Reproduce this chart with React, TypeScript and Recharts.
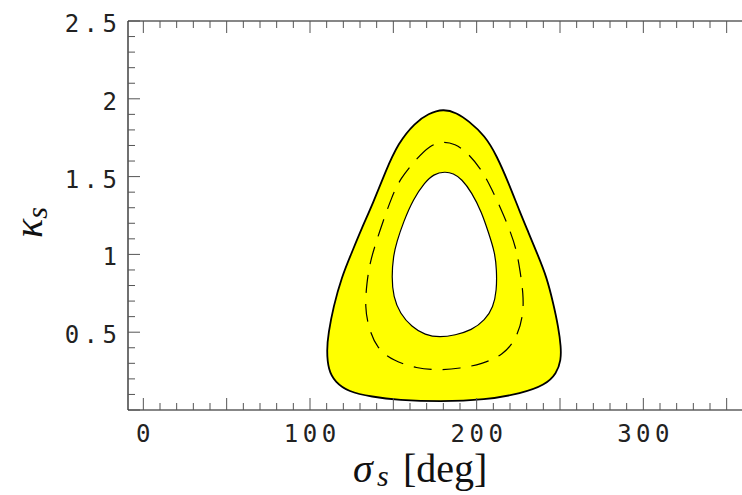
import React from "react";
import { ComposedChart, Scatter, XAxis, YAxis, Label } from "recharts";

// contour lines in the (sigma_s, kappa_s) plane, as [sigma, kappa] pairs
const outerContour: [number, number][] = [
  [180, 1.936], [171, 1.905], [163, 1.846], [153, 1.718], [145, 1.526],
  [138, 1.333], [131, 1.167], [125, 1.01], [119, 0.855], [114, 0.662],
  [111, 0.492], [110, 0.385], [111, 0.256], [115, 0.181], [123, 0.117],
  [137, 0.085], [153, 0.064], [178, 0.053], [205, 0.064], [227, 0.107],
  [241, 0.16], [248, 0.235], [250.6, 0.321], [250.6, 0.406], [249, 0.534],
  [246, 0.684], [242, 0.855], [236.5, 1.0], [231, 1.143], [226, 1.271],
  [219, 1.463], [212, 1.635], [205, 1.763], [195, 1.859], [188, 1.91],
];

const innerContour: [number, number][] = [
  [181, 1.533], [174, 1.515], [169, 1.464], [162, 1.357], [156, 1.207],
  [152, 1.079], [150, 0.99], [149, 0.855], [150, 0.726], [154, 0.62],
  [161, 0.534], [169, 0.481], [178, 0.466], [187, 0.481], [197, 0.513],
  [205, 0.577], [210, 0.662], [212, 0.769], [212, 0.897], [211, 1.01],
  [207, 1.143], [203, 1.271], [197, 1.399], [191, 1.485], [186, 1.52],
];

const dashedContour: [number, number][] = [
  [180, 1.727], [172, 1.703], [163, 1.603], [154, 1.485], [149, 1.367],
  [144, 1.218], [140, 1.09], [136, 0.951], [134, 0.812], [133, 0.662],
  [135, 0.534], [140, 0.396], [150, 0.316], [164, 0.267], [177, 0.256],
  [190, 0.267], [203, 0.295], [216, 0.353], [224, 0.46], [228, 0.609],
  [228, 0.748], [226, 0.897], [224, 1.026], [220, 1.154], [215, 1.282],
  [209, 1.421], [203, 1.545], [194, 1.66], [187, 1.71],
];

const SIGMA_TICKS = Array.from({ length: 37 }, (_, i) => i * 10);
const SIGMA_LABELS = [0, 100, 200, 300];
const KAPPA_TICKS = Array.from({ length: 26 }, (_, i) => i / 10);
const KAPPA_LABELS = ["0.5", "1", "1.5", "2", "2.5"];

const YELLOW = "#ffff00";
const TICK_COLOR = "#555";
const MONO = '"DejaVu Sans Mono", monospace';
const SERIF = '"Liberation Serif", "DejaVu Serif", serif';
const SPACING = 4.5;

const toPoints = (c: [number, number][]) =>
  c.map(([sigma, kappa]) => ({ sigma, kappa }));

const NoDot = () => <g />;

function BottomTick({ x, y, payload }: any) {
  const v = payload.value;
  const long = v % 50 === 0;
  return (
    <g>
      <line x1={x} y1={y} x2={x} y2={y - (long ? 12 : 7)} stroke={TICK_COLOR} />
      {SIGMA_LABELS.includes(v) && (
        <text
          x={x + SPACING / 2}
          y={y + 32}
          textAnchor="middle"
          fontFamily={MONO}
          fontSize={24}
          letterSpacing={SPACING}
          fill="#222"
        >
          {v}
        </text>
      )}
    </g>
  );
}

function TopTick({ x, y, payload }: any) {
  const long = payload.value % 50 === 0;
  return <line x1={x} y1={y} x2={x} y2={y + (long ? 12 : 7)} stroke={TICK_COLOR} />;
}

function LeftTick({ x, y, index }: any) {
  const long = index % 5 === 0;
  const label = long && index > 0 ? KAPPA_LABELS[index / 5 - 1] : null;
  return (
    <g>
      <line x1={x} y1={y} x2={x + (long ? 12 : 7)} y2={y} stroke={TICK_COLOR} />
      {label && (
        <text
          x={x - 11 + SPACING}
          y={y + 11}
          textAnchor="end"
          fontFamily={MONO}
          fontSize={24}
          letterSpacing={SPACING}
          fill="#222"
        >
          {label}
        </text>
      )}
    </g>
  );
}

const SigmaTitle = () => (
  <text y={482} fontFamily={SERIF} fontSize={40} fill="#111">
    <tspan x={353} fontStyle="italic">σ</tspan>
    <tspan x={377} dy={4} fontSize={30} fontStyle="italic">s</tspan>
    <tspan x={403} dy={-4}>[deg]</tspan>
  </text>
);

const KappaTitle = () => (
  <text
    x={42}
    y={238}
    transform="rotate(-90 42 238)"
    fontFamily={SERIF}
    fontSize={40}
    fill="#111"
  >
    <tspan fontStyle="italic">κ</tspan>
    <tspan dy={5} fontSize={30} fontStyle="italic">s</tspan>
  </text>
);

export default function App() {
  return (
    <div
      style={{
        position: "absolute",
        left: 0,
        top: 0,
        width: 742,
        height: 495,
        overflow: "hidden",
        background: "#fff",
      }}
    >
      <ComposedChart
        width={760}
        height={495}
        margin={{ top: 0, right: 15, bottom: 0, left: 0 }}
      >
        <XAxis
          xAxisId="x"
          dataKey="sigma"
          type="number"
          orientation="bottom"
          domain={[-9.2, 361]}
          allowDataOverflow
          ticks={SIGMA_TICKS}
          interval={0}
          tickSize={0}
          tickMargin={0}
          tickLine={false}
          tick={<BottomTick />}
          axisLine={{ stroke: "#111", strokeWidth: 1.2 }}
          height={85}
        >
          <Label content={<SigmaTitle />} />
        </XAxis>
        <XAxis
          xAxisId="top"
          dataKey="sigma"
          type="number"
          orientation="top"
          domain={[-9.2, 361]}
          allowDataOverflow
          ticks={SIGMA_TICKS}
          interval={0}
          tickSize={0}
          tickMargin={0}
          tickLine={false}
          tick={<TopTick />}
          axisLine={{ stroke: "#111", strokeWidth: 1.2 }}
          height={21}
        />
        <YAxis
          yAxisId="k"
          dataKey="kappa"
          type="number"
          domain={[0, 2.5]}
          allowDataOverflow
          ticks={KAPPA_TICKS}
          interval={0}
          tickSize={0}
          tickMargin={0}
          tickLine={false}
          tick={<LeftTick />}
          axisLine={{ stroke: "#111", strokeWidth: 1.2 }}
          width={128}
        >
          <Label content={<KappaTitle />} />
        </YAxis>

        <Scatter
          xAxisId="x"
          yAxisId="k"
          data={toPoints(outerContour)}
          fill={YELLOW}
          shape={<NoDot />}
          line={{ stroke: "#000", strokeWidth: 1.8, fill: YELLOW }}
          lineJointType="basisClosed"
          isAnimationActive={false}
        />
        <Scatter
          xAxisId="x"
          yAxisId="k"
          data={toPoints(innerContour)}
          fill="#fff"
          shape={<NoDot />}
          line={{ stroke: "#000", strokeWidth: 1.2, fill: "#fff" }}
          lineJointType="basisClosed"
          isAnimationActive={false}
        />
        <Scatter
          xAxisId="x"
          yAxisId="k"
          data={toPoints(dashedContour)}
          fill="#000"
          shape={<NoDot />}
          line={{ stroke: "#000", strokeWidth: 1.2, fill: "none", strokeDasharray: "18 11" }}
          lineJointType="basisClosed"
          isAnimationActive={false}
        />
      </ComposedChart>
    </div>
  );
}
